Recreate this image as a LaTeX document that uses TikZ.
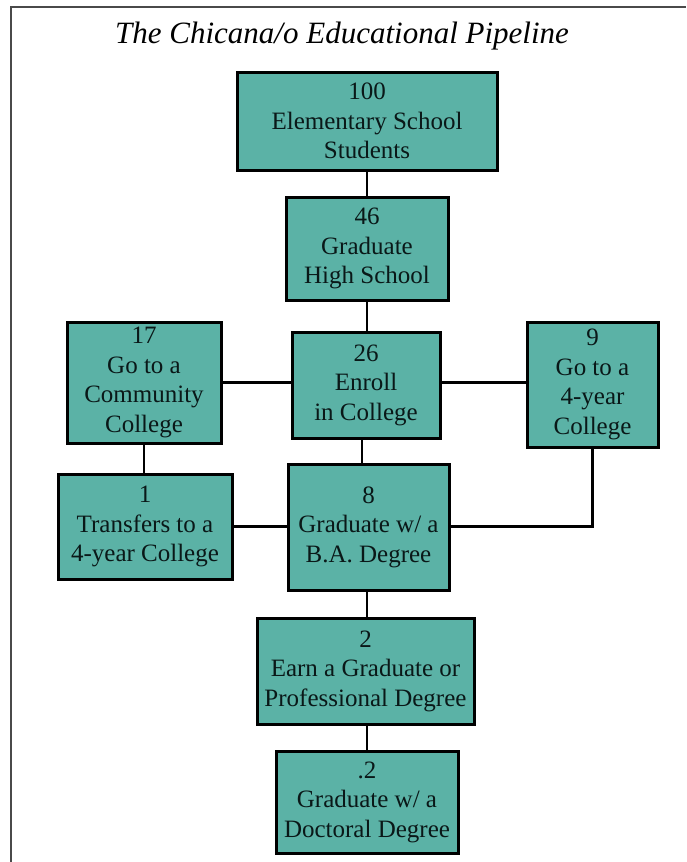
\documentclass[tikz,border=0pt]{standalone}
\usepackage{fontspec}
\setmainfont{Liberation Serif}
\definecolor{boxfill}{HTML}{5BB2A6}
\definecolor{boxtext}{HTML}{0A1818}
\definecolor{framegray}{HTML}{4A4A4A}
\begin{document}
\begin{tikzpicture}[x=1pt,y=-1pt,
  stagebox/.style={draw=black, line width=3pt, fill=boxfill, text=boxtext,
    inner sep=0pt, align=center, font=\fontsize{25}{29.5}\selectfont},
  link/.style={draw=black, line width=2.8pt},
  framelineX/.style={draw=framegray, line width=2pt}]
\useasboundingbox (0,0) rectangle (686,862);
% frame
\coordinate (fA) at (10.5,862);
\coordinate (fB) at (10.5,6.5);
\coordinate (fC) at (686,6.5);
\draw[framelineX] (fA) -- (fB) -- (fC);
% title
\node[font=\fontsize{31}{34}\selectfont\itshape, text=black] (title) at (342,36) {The Chicana/o Educational Pipeline};
% boxes
\node[stagebox, minimum width=260pt, minimum height=98pt] (n100) at (367,121) {100\\Elementary School\\Students};
\node[stagebox, minimum width=162pt, minimum height=103pt] (n46) at (367,248.5) {46\\Graduate\\High School};
\node[stagebox, minimum width=148pt, minimum height=106pt] (n26) at (366,385) {26\\Enroll\\in College};
\node[stagebox, minimum width=154pt, minimum height=121pt] (n17) at (144,382.5) {17\\Go to a\\Community\\College};
\node[stagebox, minimum width=131pt, minimum height=125pt] (n9) at (592.5,384.5) {9\\Go to a\\4-year\\College};
\node[stagebox, minimum width=174pt, minimum height=105pt] (n1) at (145,526.5) {1\\Transfers to a\\4-year College};
\node[stagebox, minimum width=161pt, minimum height=126pt] (n8) at (368.5,527) {8\\Graduate w/ a\\B.A. Degree};
\node[stagebox, minimum width=217pt, minimum height=106pt] (n2) at (365.5,671) {2\\Earn a Graduate or\\Professional Degree};
\node[stagebox, minimum width=182pt, minimum height=102pt] (n02) at (367,802) {.2\\Graduate w/ a\\Doctoral Degree};
% connectors
\draw[link] (n100.south) -- (n46.north);
\draw[link] (n46.south) -- (n46.south |- n26.north);
\draw[link] (n17.east) -- (n17.east -| n26.west);
\draw[link] (n26.east |- n17.east) -- (n9.west |- n17.east);
\draw[link] ([xshift=-4pt]n26.south) -- ([xshift=-4pt]n26.south |- n8.north);
\draw[link] (n17.south) -- (n17.south |- n1.north);
\draw[link] (n1.east) -- (n1.east -| n8.west);
\draw[link] (n8.east |- n1.east) -| (n9.south);
\draw[link] (n8.south -| n100.south) -- (n2.north -| n100.south);
\draw[link] (n2.south -| n100.south) -- (n02.north -| n100.south);
\end{tikzpicture}
\end{document}
